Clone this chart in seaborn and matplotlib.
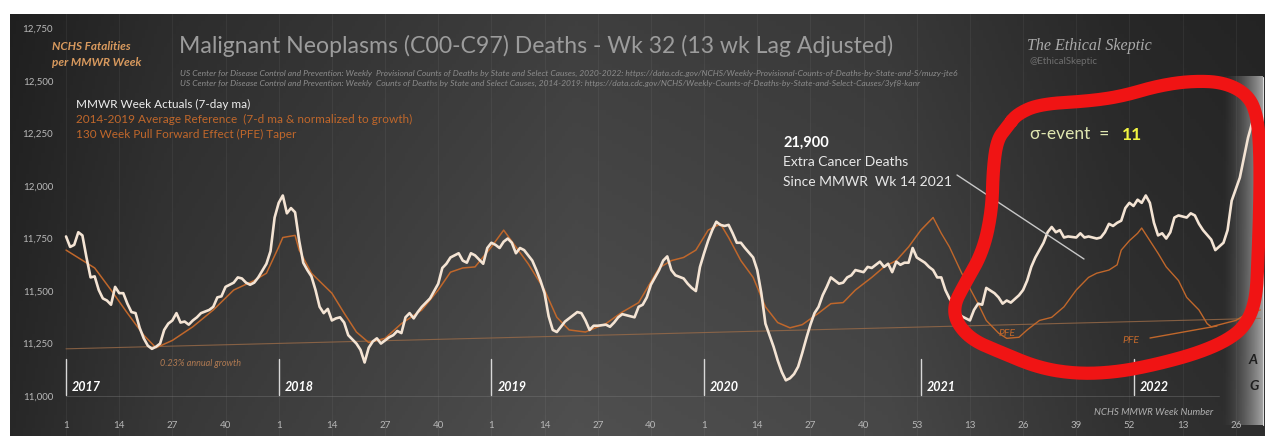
import numpy as np
import matplotlib
matplotlib.use("Agg")
import matplotlib.pyplot as plt
import seaborn as sns

# week index 0 = MMWR week 1 of 2017 (2020 has 53 weeks)
actual_wk = [0, 1, 2, 3, 4, 5, 6, 7, 8, 9, 10, 11, 12, 13, 14, 15, 16, 17, 18, 19, 20,
             21, 22, 23, 24, 25, 26, 27, 28, 29, 30, 31, 32, 33, 35, 36, 37, 38, 39, 41,
             42, 43, 44, 45, 46, 47, 49, 50, 51, 52, 53, 54, 55, 56, 57, 58, 59, 60, 61,
             62, 63, 64, 65, 66, 67, 68, 69, 71, 72, 73, 74, 75, 76, 77, 79, 80, 81, 82,
             83, 84, 85, 86, 87, 88, 89, 91, 92, 93, 94, 96, 97, 98, 99, 100, 102, 103,
             104, 105, 106, 107, 108, 109, 110, 111, 112, 114, 115, 116, 117, 118, 119,
             120, 122, 124, 125, 126, 127, 128, 129, 130, 132, 133, 134, 135, 136, 137,
             139, 140, 141, 142, 143, 145, 146, 147, 148, 149, 151, 152, 153, 154, 155,
             156, 157, 158, 159, 160, 161, 162, 163, 164, 165, 166, 168, 169, 170, 171,
             172, 173, 174, 175, 176, 177, 178, 179, 180, 181, 182, 183, 184, 185, 186,
             187, 189, 190, 191, 192, 193, 195, 196, 197, 198, 199, 200, 201, 202, 203,
             204, 205, 206, 207, 208, 210, 211, 212, 213, 214, 215, 216, 217, 218, 219,
             220, 221, 222, 223, 224, 225, 227, 228, 229, 230, 231, 233, 234, 235, 236,
             237, 239, 240, 241, 242, 243, 244, 245, 247, 248, 249, 250, 252, 253, 254,
             255, 256, 257, 258, 259, 260, 261, 262, 263, 264, 265, 266, 267, 268, 269,
             270, 271, 272, 274, 275, 276, 277, 278, 280, 281, 283, 284, 285, 287, 288,
             289, 290, 291]
actual_val = [11760, 11710, 11720, 11780, 11765, 11660, 11565, 11570, 11505, 11465, 11455,
              11435, 11520, 11490, 11490, 11440, 11400, 11395, 11325, 11275, 11240, 11225,
              11235, 11250, 11315, 11345, 11360, 11395, 11350, 11355, 11340, 11360, 11375,
              11395, 11410, 11425, 11470, 11475, 11520, 11540, 11565, 11560, 11540, 11530,
              11540, 11565, 11630, 11690, 11850, 11920, 11955, 11870, 11895, 11875, 11740,
              11635, 11600, 11570, 11505, 11425, 11395, 11415, 11360, 11370, 11375, 11350,
              11290, 11250, 11220, 11160, 11230, 11260, 11275, 11250, 11280, 11290, 11310,
              11300, 11375, 11395, 11370, 11400, 11425, 11445, 11465, 11535, 11610, 11630,
              11660, 11680, 11645, 11635, 11680, 11670, 11630, 11705, 11730, 11720, 11705,
              11735, 11750, 11730, 11680, 11705, 11695, 11645, 11600, 11550, 11490, 11380,
              11315, 11305, 11355, 11385, 11400, 11395, 11360, 11315, 11335, 11335, 11340,
              11330, 11350, 11375, 11390, 11385, 11375, 11425, 11435, 11470, 11530, 11600,
              11645, 11665, 11600, 11575, 11560, 11535, 11515, 11500, 11615, 11680, 11740,
              11790, 11830, 11815, 11810, 11815, 11775, 11730, 11730, 11705, 11660, 11600,
              11490, 11345, 11290, 11235, 11170, 11115, 11075, 11085, 11105, 11140, 11205,
              11275, 11340, 11395, 11425, 11480, 11520, 11565, 11535, 11540, 11565, 11575,
              11600, 11590, 11615, 11610, 11625, 11640, 11615, 11630, 11590, 11640, 11625,
              11635, 11635, 11705, 11660, 11635, 11615, 11600, 11565, 11565, 11505, 11465,
              11435, 11400, 11380, 11370, 11360, 11410, 11440, 11435, 11515, 11490, 11470,
              11440, 11455, 11445, 11480, 11505, 11550, 11615, 11660, 11730, 11780, 11805,
              11780, 11790, 11755, 11760, 11755, 11775, 11755, 11760, 11750, 11755, 11780,
              11820, 11810, 11825, 11835, 11895, 11920, 11905, 11935, 11920, 11955, 11920,
              11825, 11765, 11775, 11750, 11780, 11850, 11860, 11850, 11870, 11860, 11820,
              11790, 11745, 11695, 11730, 11790, 11930, 12040, 12135, 12230, 12300, 12340]

ref_wk = [0, 7, 11, 15, 19, 22, 26, 31, 36, 41, 46, 49, 52, 53, 56, 57, 60, 65, 68, 71,
          74, 78, 82, 87, 91, 94, 97, 100, 104, 107, 110, 113, 117, 120, 123, 127, 132,
          136, 140, 145, 148, 151, 154, 157, 160, 162, 165, 168, 171, 174, 177, 180, 184,
          187, 190, 193, 197, 200, 203, 206, 209, 212]
ref_val = [11695, 11610, 11505, 11395, 11290, 11230, 11265, 11330, 11410, 11505, 11550,
           11585, 11710, 11755, 11765, 11695, 11585, 11490, 11395, 11305, 11255, 11275,
           11345, 11410, 11505, 11590, 11610, 11615, 11710, 11790, 11710, 11630, 11505,
           11375, 11315, 11305, 11345, 11400, 11445, 11610, 11645, 11660, 11695, 11790,
           11820, 11755, 11645, 11565, 11425, 11350, 11325, 11340, 11395, 11440, 11445,
           11505, 11565, 11615, 11645, 11710, 11790, 11850]

pfe_wk = [212, 214, 216, 219, 223, 225, 228, 230, 233, 235, 238, 241, 244, 247, 250, 252,
          255, 257, 258, 260, 262, 263, 265, 267, 269, 272, 274, 277, 279, 280, 283, 286,
          289, 292]
pfe_val = [11850, 11775, 11710, 11585, 11440, 11360, 11300, 11275, 11280, 11315, 11360,
           11375, 11425, 11505, 11565, 11585, 11600, 11625, 11695, 11740, 11775, 11800,
           11740, 11680, 11615, 11550, 11470, 11410, 11345, 11330, 11345, 11360, 11395,
           11410]

growth_wk = [0, 292]
growth_val = [11225, 11370]

tick_wk = [0, 13, 26, 39, 52, 65, 78, 91, 104, 117, 130, 143, 156, 169, 182, 195, 208,
           221, 234, 247, 260, 273, 286]
tick_lbl = ['1', '14', '27', '40'] * 4 + ['53', '13', '26', '39', '52', '13', '26']
year_wk = [0, 52, 104, 156, 209, 261]
year_lbl = ['2017', '2018', '2019', '2020', '2021', '2022']
y_ticks = [11000, 11250, 11500, 11750, 12000, 12250, 12500, 12750]

W, H = 1265, 436
WHITE = '#f4e4d4'
ORANGE = '#c0672b'


def P(x, y):
    return x / W, 1 - y / H


def chaikin(pts, n=4):
    p = np.asarray(pts, float)
    for _ in range(n):
        nxt = np.roll(p, -1, axis=0)
        q = 0.75 * p + 0.25 * nxt
        r = 0.25 * p + 0.75 * nxt
        p = np.empty((2 * len(q), 2))
        p[0::2] = q
        p[1::2] = r
    return np.vstack([p, p[:1]])


sns.set_style('dark')
plt.rcParams['font.family'] = ['Lato', 'DejaVu Sans']

fig = plt.figure(figsize=(W / 100, H / 100), dpi=100, facecolor='white')
ax = fig.add_axes([10 / W, 0, 1255 / W, 422 / H])
ax.set_xlim(-13.7, 293.15)
ax.set_ylim(10810, 12819)

# dark gradient background
xs = np.linspace(0, 1, 400)
stops_x = [0, 0.12, 0.45, 0.7, 0.88, 1]
stops_v = [0.15, 0.21, 0.30, 0.27, 0.19, 0.17]
base = np.interp(xs, stops_x, stops_v)
ys = np.linspace(0, 1, 100)[:, None]
grad = base[None, :] * (0.82 + 0.22 * ys)
ax.imshow(np.dstack([grad] * 3), extent=[0, 1, 0, 1], transform=ax.transAxes,
          aspect='auto', zorder=0, origin='upper')

# light band at the right edge (A G)
band = np.zeros((2, 100, 4))
band[..., :3] = 0.72
band[..., 3] = np.linspace(0, 1, 100) ** 1.6 * 0.85
ax.imshow(band, extent=[282.5, 292.6, 10860, 12520], aspect='auto', zorder=1)
ax.plot([292.6, 292.6], [10860, 12520], color='#dddddd', lw=0.8, zorder=1)

ax.grid(axis='x', color='#ffffff', alpha=0.05, lw=0.8)
ax.grid(axis='y', visible=False)
for s in ax.spines.values():
    s.set_visible(False)

ax.plot([0, 282], [11000, 11000], color='#777777', lw=0.6, alpha=0.5, zorder=2)

sns.lineplot(x=growth_wk, y=growth_val, ax=ax, color='#9a6b48', lw=0.8, alpha=0.8, zorder=3)
sns.lineplot(x=ref_wk, y=ref_val, ax=ax, color=ORANGE, lw=1.1, zorder=4)
sns.lineplot(x=pfe_wk, y=pfe_val, ax=ax, color=ORANGE, lw=1.0, zorder=4)
sns.lineplot(x=actual_wk, y=actual_val, ax=ax, color=WHITE, lw=1.9, zorder=5)

ax.set_xticks(tick_wk)
ax.set_xticklabels(tick_lbl)
ax.set_yticks(y_ticks)
ax.set_yticklabels([f'{v:,}' for v in y_ticks])
ax.tick_params(axis='x', direction='in', length=0, pad=-11, labelsize=7,
               labelcolor='#b8b8b8')
ax.tick_params(axis='y', direction='in', length=0, pad=-31, labelsize=7,
               labelcolor='#b8b8b8')
ax.set_xlabel('')
ax.set_ylabel('')

# year markers
for wk, lbl in zip(year_wk, year_lbl):
    ax.plot([wk, wk], [11005, 11175], color='#d8d8d8', lw=1.0, zorder=3)
    ax.text(wk + 1.5, 11045, lbl, color='white', fontsize=9, fontweight='bold',
            fontstyle='italic', va='center', ha='left', zorder=6)

# texts
fig.text(*P(52, 46), 'NCHS Fatalities', color='#d99a5e', fontsize=8.5,
         fontweight='bold', fontstyle='italic', va='center')
fig.text(*P(52, 63), 'per MMWR Week', color='#d99a5e', fontsize=8.5,
         fontweight='bold', fontstyle='italic', va='center')
fig.text(*P(179, 46), 'Malignant Neoplasms (C00-C97) Deaths - Wk 32 (13 wk Lag Adjusted)',
         color='#9c9c9c', fontsize=16.6, va='center')
fig.text(*P(180, 73), 'US Center for Disease Control and Prevention: Weekly  Provisional '
         'Counts of Deaths by State and Select Causes, 2020-2022: https://data.cdc.gov/'
         'NCHS/Weekly-Provisional-Counts-of-Deaths-by-State-and-S/muzy-jte6',
         color='#8c8c8c', fontsize=6.1, fontstyle='italic', va='center')
fig.text(*P(180, 83), 'US Center for Disease Control and Prevention: Weekly  Counts of '
         'Deaths by State and Select Causes, 2014-2019: https://data.cdc.gov/NCHS/'
         'Weekly-Counts-of-Deaths-by-State-and-Select-Causes/3yf8-kanr',
         color='#8c8c8c', fontsize=6.1, fontstyle='italic', va='center')

fig.text(*P(76, 104), 'MMWR Week Actuals (7-day ma)', color='#eeeeee', fontsize=8.5,
         va='center')
fig.text(*P(76, 119), '2014-2019 Average Reference  (7-d ma & normalized to growth)',
         color=ORANGE, fontsize=8.5, va='center')
fig.text(*P(76, 134), '130 Week Pull Forward Effect (PFE) Taper', color=ORANGE,
         fontsize=8.5, va='center')

fig.text(*P(1027, 46), 'The Ethical Skeptic', color='#aaaaaa', fontsize=11.5,
         family='Liberation Serif', fontstyle='italic', va='center')
fig.text(*P(1029, 62), '@EthicalSkeptic', color='#6e6e6e', fontsize=7, va='center')

fig.text(*P(783, 143), '21,900', color='white', fontsize=10.5, fontweight='bold',
         va='center')
fig.text(*P(783, 162), 'Extra Cancer Deaths', color='#e8e8e8', fontsize=10, va='center')
fig.text(*P(783, 182), 'Since MMWR  Wk 14 2021', color='#e8e8e8', fontsize=10,
         va='center')
fig.add_artist(plt.Line2D([957 / W, 1084 / W], [1 - 175 / H, 1 - 259 / H],
                          color='#c8c8c8', lw=1.0, zorder=7))

fig.text(*P(998, 333), 'PFE', color=ORANGE, fontsize=7.5, fontstyle='italic', va='center')
fig.text(*P(1122, 340), 'PFE', color=ORANGE, fontsize=7.5, fontstyle='italic', va='center')
fig.add_artist(plt.Line2D([1150 / W, 1217 / W], [1 - 338 / H, 1 - 326 / H],
                          color=ORANGE, lw=1.0))

fig.text(*P(160, 363), '0.23% annual growth', color='#b07a52', fontsize=6.5,
         fontstyle='italic', va='center')
fig.text(*P(1094, 412), 'NCHS MMWR Week Number', color='#b0b0b0', fontsize=7,
         fontstyle='italic', va='center')
fig.text(*P(1249, 360), 'A', color='#1e1e1e', fontsize=10, fontweight='bold',
         fontstyle='italic', va='center')
fig.text(*P(1249, 386), 'G', color='#1e1e1e', fontsize=10, fontweight='bold',
         fontstyle='italic', va='center')

fig.text(*P(1030, 134), 'σ-event  =', color='#dfe6b0', fontsize=12.5, va='center')
fig.text(*P(1122, 135), '11', color='#f2f542', fontsize=12.5, fontweight='bold',
         va='center')

# hand-drawn red loop
loop = [(1007, 127), (1017, 114), (1040, 104), (1090, 101), (1123, 96), (1157, 86),
        (1190, 81), (1223, 82), (1247, 94), (1257, 114), (1260, 150), (1260, 200),
        (1258, 260), (1256, 300), (1246, 325), (1228, 340), (1198, 353), (1158, 364),
        (1118, 372), (1078, 374), (1039, 368), (1000, 352), (972, 340), (956, 322),
        (954, 305), (963, 287), (983, 252), (992, 210), (993, 170), (997, 140)]
sm = chaikin(loop)
fig.add_artist(plt.Line2D(sm[:, 0] / W, 1 - sm[:, 1] / H, color='#f01414', lw=9.5,
                          solid_capstyle='round', solid_joinstyle='round', zorder=10))

fig.savefig('out.png', dpi=100, facecolor='white')
